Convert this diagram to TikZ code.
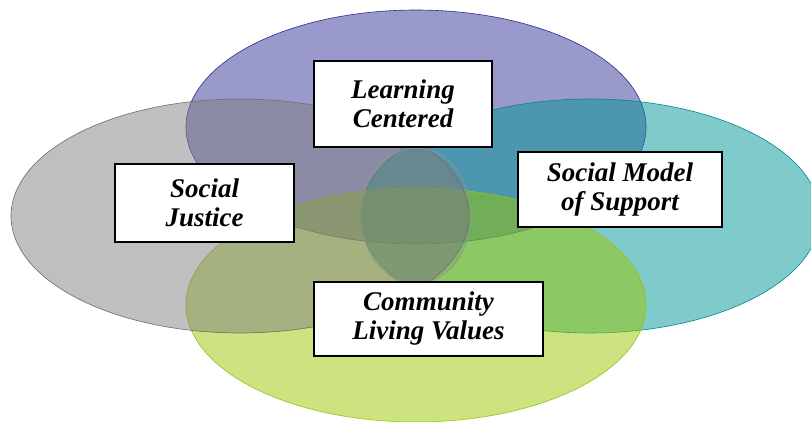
\documentclass[tikz,border=0pt]{standalone}
\usepackage{fontspec}
\setmainfont{Liberation Serif}
\definecolor{topfill}{RGB}{51,51,153}
\definecolor{topline}{RGB}{45,45,140}
\definecolor{rightfill}{RGB}{0,149,149}
\definecolor{rightline}{RGB}{0,135,140}
\definecolor{bottomfill}{RGB}{153,199,0}
\definecolor{bottomline}{RGB}{150,195,20}
\definecolor{leftfill}{RGB}{127,127,127}
\definecolor{leftline}{RGB}{110,110,110}
\definecolor{midfill}{RGB}{110,130,120}

\begin{document}
\begin{tikzpicture}[x=1pt,y=-1pt,
			blob/.style={fill opacity=0.5,line width=0.6pt},
			mid/.style={fill=midfill,fill opacity=0.25,draw=gray!80,line width=0.6pt},
			lbox/.style={draw=black,fill=white,line width=1.5pt,inner sep=0pt,align=center,
				font=\fontsize{27}{29}\selectfont\bfseries\itshape}]
			\useasboundingbox (0,0) rectangle (811,422);
			\draw [blob,draw=topline,fill=topfill]		(416,127) ellipse [x radius=230pt,y radius=117pt];
			\draw [blob,draw=rightline,fill=rightfill]	(590,216) ellipse [x radius=230pt,y radius=117pt];
			\draw [blob,draw=bottomline,fill=bottomfill]	(416,305) ellipse [x radius=230pt,y radius=117pt];
			\draw [blob,draw=leftline,fill=leftfill]		(240,216) ellipse [x radius=229pt,y radius=117pt];
			\draw [mid]		(416,216) ellipse [x radius=55pt,y radius=68pt];
			\node [lbox,minimum width=178pt,minimum height=86pt]	(learn)		at (403,104)	{Learning\\Centered};
			\node [lbox,minimum width=179pt,minimum height=78pt]	(justice)	at (204.5,203)	{Social\\Justice};
			\node [lbox,minimum width=204pt,minimum height=75pt]	(support)	at (620,189.5)	{Social Model\\of Support};
			\node [lbox,minimum width=229pt,minimum height=74pt]	(values)	at (428.5,319)	{Community\\Living Values};
		\end{tikzpicture}
\end{document}
